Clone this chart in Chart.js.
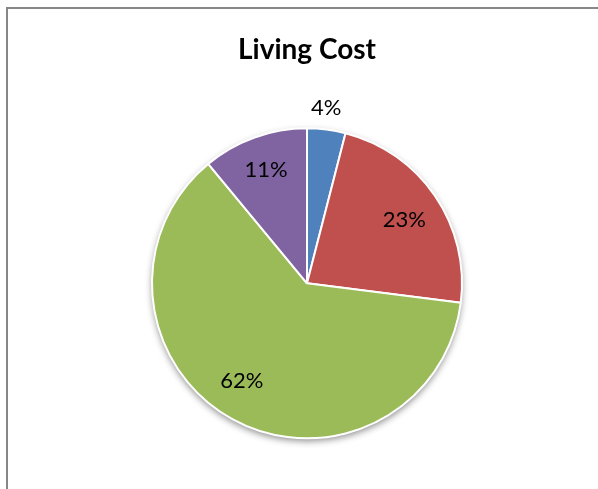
<!DOCTYPE html>
<html>
<head>
<meta charset="utf-8">
<script src="https://cdn.jsdelivr.net/npm/chart.js@4"></script>
<style>
  html, body { margin: 0; padding: 0; overflow: hidden; background: #fff; }
  #frame {
    position: absolute; left: 6px; top: 7px;
    width: 640px; height: 600px;
    border: 2px solid #878787;
  }
  #wrap { position: absolute; left: 0; top: 0; width: 598px; height: 489px; }
</style>
</head>
<body>
<div id="frame"></div>
<div id="wrap"><canvas id="costChart"></canvas></div>
<script>
// Данные диаграммы
let
    costCategories = ['Cat 1', 'Cat 2', 'Cat 3', 'Cat 4'],
    costValues = [4, 23, 62, 11],
    costLabels = ['4%', '23%', '62%', '11%'],
    costColors = ['#4f81bd', '#c0504d', '#9bbb59', '#8064a2'];

// Тень под кругом, как в Excel
const pieShadow = {
  id: 'pieShadow',
  beforeDatasetsDraw(chart) {
    const arc = chart.getDatasetMeta(0).data[0];
    if (!arc) return;
    const ctx = chart.ctx;
    ctx.save();
    ctx.shadowColor = 'rgba(0,0,0,0.45)';
    ctx.shadowBlur = 7;
    ctx.shadowOffsetY = 3;
    ctx.fillStyle = '#fff';
    ctx.beginPath();
    ctx.arc(arc.x, arc.y, arc.outerRadius, 0, Math.PI * 2);
    ctx.fill();
    ctx.restore();
  }
};

// Подписи процентов на секторах
const sliceLabels = {
  id: 'sliceLabels',
  afterDatasetsDraw(chart, args, opts) {
    const ctx = chart.ctx;
    ctx.save();
    ctx.font = opts.font;
    ctx.fillStyle = '#000';
    ctx.textAlign = 'center';
    ctx.textBaseline = 'middle';
    chart.getDatasetMeta(0).data.forEach((arc, i) => {
      const mid = (arc.startAngle + arc.endAngle) / 2 + opts.shift[i] * Math.PI / 180;
      const r = arc.outerRadius * opts.radial[i];
      ctx.fillText(costLabels[i], arc.x + Math.cos(mid) * r, arc.y + Math.sin(mid) * r);
    });
    ctx.restore();
  }
};

new Chart(document.getElementById('costChart').getContext('2d'), {
  type: 'pie',
  data: {
    labels: costCategories,
    datasets: [{
      data: costValues,
      backgroundColor: costColors,
      borderColor: '#ffffff',
      borderWidth: 2
    }]
  },
  options: {
    responsive: true,
    maintainAspectRatio: false,
    animation: false,
    radius: 155,
    layout: { padding: { left: 16, bottom: 0 } },
    plugins: {
      legend: { display: false },
      tooltip: { enabled: false },
      title: {
        display: true,
        text: 'Living Cost',
        color: '#000',
        font: { family: 'Lato', size: 28, weight: 'bold', lineHeight: 1.2 },
        padding: { top: 33, bottom: 11 }
      },
      sliceLabels: {
        font: '22px Lato',
        radial: [1.14, 0.75, 0.755, 0.78],
        shift: [-1, 1, 5, 0]
      }
    }
  },
  plugins: [pieShadow, sliceLabels]
});
</script>
</body>
</html>
